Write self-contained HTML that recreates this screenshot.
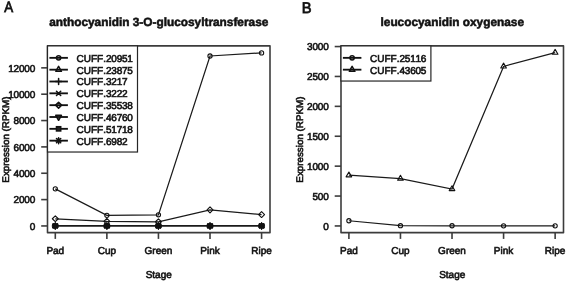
<!DOCTYPE html>
<html><head><meta charset="utf-8"><title>Expression plots</title>
<style>
html,body{margin:0;padding:0;background:#fff;}
body{width:567px;height:282px;overflow:hidden;}
svg{display:block;font-family:"Liberation Sans",sans-serif;fill:#111;text-rendering:geometricPrecision;font-kerning:none;will-change:transform;}
text{stroke:#111;stroke-width:0.65px;stroke-opacity:0.9;}
</style></head><body>
<svg width="567" height="282" viewBox="0 0 567 282">
<rect width="567" height="282" fill="#fff"/>
<rect x="47.5" y="45.9" width="222.5" height="186.75" fill="none" stroke="#3c3c3c" stroke-width="1.6" stroke-linejoin="round"/>
<line x1="41.20" x2="47.5" y1="225.95" y2="225.95" stroke="#3c3c3c" stroke-width="1.6"/>
<text x="35.20" y="229.65" text-anchor="end" font-size="10.0" letter-spacing="-0.15">0</text>
<line x1="41.20" x2="47.5" y1="199.60" y2="199.60" stroke="#3c3c3c" stroke-width="1.6"/>
<text x="35.20" y="203.30" text-anchor="end" font-size="10.0" letter-spacing="-0.15">2000</text>
<line x1="41.20" x2="47.5" y1="173.25" y2="173.25" stroke="#3c3c3c" stroke-width="1.6"/>
<text x="35.20" y="176.95" text-anchor="end" font-size="10.0" letter-spacing="-0.15">4000</text>
<line x1="41.20" x2="47.5" y1="146.90" y2="146.90" stroke="#3c3c3c" stroke-width="1.6"/>
<text x="35.20" y="150.60" text-anchor="end" font-size="10.0" letter-spacing="-0.15">6000</text>
<line x1="41.20" x2="47.5" y1="120.55" y2="120.55" stroke="#3c3c3c" stroke-width="1.6"/>
<text x="35.20" y="124.25" text-anchor="end" font-size="10.0" letter-spacing="-0.15">8000</text>
<line x1="41.20" x2="47.5" y1="94.20" y2="94.20" stroke="#3c3c3c" stroke-width="1.6"/>
<text x="35.20" y="97.90" text-anchor="end" font-size="10.0" letter-spacing="-0.15">10000</text>
<line x1="41.20" x2="47.5" y1="67.85" y2="67.85" stroke="#3c3c3c" stroke-width="1.6"/>
<text x="35.20" y="71.55" text-anchor="end" font-size="10.0" letter-spacing="-0.15">12000</text>
<line x1="55.30" x2="55.30" y1="232.65" y2="238.9" stroke="#3c3c3c" stroke-width="1.6"/>
<text x="55.30" y="254.1" text-anchor="middle" font-size="10.0">Pad</text>
<line x1="106.87" x2="106.87" y1="232.65" y2="238.9" stroke="#3c3c3c" stroke-width="1.6"/>
<text x="106.87" y="254.1" text-anchor="middle" font-size="10.0">Cup</text>
<line x1="158.44" x2="158.44" y1="232.65" y2="238.9" stroke="#3c3c3c" stroke-width="1.6"/>
<text x="158.44" y="254.1" text-anchor="middle" font-size="10.0">Green</text>
<line x1="210.01" x2="210.01" y1="232.65" y2="238.9" stroke="#3c3c3c" stroke-width="1.6"/>
<text x="210.01" y="254.1" text-anchor="middle" font-size="10.0">Pink</text>
<line x1="261.58" x2="261.58" y1="232.65" y2="238.9" stroke="#3c3c3c" stroke-width="1.6"/>
<text x="261.58" y="254.1" text-anchor="middle" font-size="10.0">Ripe</text>
<text x="158.75" y="277.7" text-anchor="middle" font-size="10.0">Stage</text>
<text x="158.75" y="25.9" text-anchor="middle" font-size="11.85" font-weight="bold" style="stroke-width:0.6px">anthocyanidin 3-O-glucosyltransferase</text>
<text transform="translate(9.10,139.62) rotate(-90) scale(0.98,0.96)" text-anchor="middle" font-size="10.0">Expression (RPKM)</text>
<text x="4.15" y="12.2" font-size="15.1" textLength="8.9" lengthAdjust="spacingAndGlyphs" style="stroke-width:0.85px">A</text>
<polyline points="55.30,188.86 106.87,215.34 158.44,214.82 210.01,55.99 261.58,52.90" fill="none" stroke="#1a1a1a" stroke-width="1.25"/>
<polyline points="55.30,225.91 106.87,225.91 158.44,225.91 210.01,225.91 261.58,225.91" fill="none" stroke="#1a1a1a" stroke-width="1.9"/>
<polyline points="55.30,218.76 106.87,221.44 158.44,221.75 210.01,209.85 261.58,214.55" fill="none" stroke="#1a1a1a" stroke-width="1.25"/>
<circle cx="55.30" cy="188.86" r="2.10" fill="none" stroke="#111" stroke-width="1.1"/>
<circle cx="106.87" cy="215.34" r="2.10" fill="none" stroke="#111" stroke-width="1.1"/>
<circle cx="158.44" cy="214.82" r="2.10" fill="none" stroke="#111" stroke-width="1.1"/>
<circle cx="210.01" cy="55.99" r="2.10" fill="none" stroke="#111" stroke-width="1.1"/>
<circle cx="261.58" cy="52.90" r="2.10" fill="none" stroke="#111" stroke-width="1.1"/>
<polygon points="55.30,222.65 58.12,227.54 52.48,227.54" fill="none" stroke="#111" stroke-width="1.1" stroke-linejoin="round"/>
<polygon points="106.87,222.65 109.69,227.54 104.05,227.54" fill="none" stroke="#111" stroke-width="1.1" stroke-linejoin="round"/>
<polygon points="158.44,222.65 161.26,227.54 155.62,227.54" fill="none" stroke="#111" stroke-width="1.1" stroke-linejoin="round"/>
<polygon points="210.01,222.65 212.83,227.54 207.19,227.54" fill="none" stroke="#111" stroke-width="1.1" stroke-linejoin="round"/>
<polygon points="261.58,222.65 264.40,227.54 258.76,227.54" fill="none" stroke="#111" stroke-width="1.1" stroke-linejoin="round"/>
<path d="M52.33 225.91H58.27M55.30 222.94V228.88" stroke="#111" stroke-width="1.1" stroke-linecap="round" fill="none"/>
<path d="M103.90 225.91H109.84M106.87 222.94V228.88" stroke="#111" stroke-width="1.1" stroke-linecap="round" fill="none"/>
<path d="M155.47 225.91H161.41M158.44 222.94V228.88" stroke="#111" stroke-width="1.1" stroke-linecap="round" fill="none"/>
<path d="M207.04 225.91H212.98M210.01 222.94V228.88" stroke="#111" stroke-width="1.1" stroke-linecap="round" fill="none"/>
<path d="M258.61 225.91H264.55M261.58 222.94V228.88" stroke="#111" stroke-width="1.1" stroke-linecap="round" fill="none"/>
<path d="M53.20 223.81L57.40 228.01M53.20 228.01L57.40 223.81" stroke="#111" stroke-width="1.1" stroke-linecap="round" fill="none"/>
<path d="M104.77 223.81L108.97 228.01M104.77 228.01L108.97 223.81" stroke="#111" stroke-width="1.1" stroke-linecap="round" fill="none"/>
<path d="M156.34 223.81L160.54 228.01M156.34 228.01L160.54 223.81" stroke="#111" stroke-width="1.1" stroke-linecap="round" fill="none"/>
<path d="M207.91 223.81L212.11 228.01M207.91 228.01L212.11 223.81" stroke="#111" stroke-width="1.1" stroke-linecap="round" fill="none"/>
<path d="M259.48 223.81L263.68 228.01M259.48 228.01L263.68 223.81" stroke="#111" stroke-width="1.1" stroke-linecap="round" fill="none"/>
<polygon points="55.30,215.79 58.27,218.76 55.30,221.73 52.33,218.76" fill="none" stroke="#111" stroke-width="1.1" stroke-linejoin="round"/>
<polygon points="106.87,218.47 109.84,221.44 106.87,224.41 103.90,221.44" fill="none" stroke="#111" stroke-width="1.1" stroke-linejoin="round"/>
<polygon points="158.44,218.78 161.41,221.75 158.44,224.72 155.47,221.75" fill="none" stroke="#111" stroke-width="1.1" stroke-linejoin="round"/>
<polygon points="210.01,206.88 212.98,209.85 210.01,212.82 207.04,209.85" fill="none" stroke="#111" stroke-width="1.1" stroke-linejoin="round"/>
<polygon points="261.58,211.58 264.55,214.55 261.58,217.52 258.61,214.55" fill="none" stroke="#111" stroke-width="1.1" stroke-linejoin="round"/>
<polygon points="55.30,229.17 58.12,224.28 52.48,224.28" fill="none" stroke="#111" stroke-width="1.1" stroke-linejoin="round"/>
<polygon points="106.87,229.17 109.69,224.28 104.05,224.28" fill="none" stroke="#111" stroke-width="1.1" stroke-linejoin="round"/>
<polygon points="158.44,229.17 161.26,224.28 155.62,224.28" fill="none" stroke="#111" stroke-width="1.1" stroke-linejoin="round"/>
<polygon points="210.01,229.17 212.83,224.28 207.19,224.28" fill="none" stroke="#111" stroke-width="1.1" stroke-linejoin="round"/>
<polygon points="261.58,229.17 264.40,224.28 258.76,224.28" fill="none" stroke="#111" stroke-width="1.1" stroke-linejoin="round"/>
<rect x="53.20" y="223.81" width="4.20" height="4.20" fill="#222" stroke="#111" stroke-width="1.1"/>
<rect x="104.77" y="223.81" width="4.20" height="4.20" fill="#222" stroke="#111" stroke-width="1.1"/>
<rect x="156.34" y="223.81" width="4.20" height="4.20" fill="#222" stroke="#111" stroke-width="1.1"/>
<rect x="207.91" y="223.81" width="4.20" height="4.20" fill="#222" stroke="#111" stroke-width="1.1"/>
<rect x="259.48" y="223.81" width="4.20" height="4.20" fill="#222" stroke="#111" stroke-width="1.1"/>
<path d="M52.33 225.91H58.27M55.30 222.94V228.88M53.20 223.81L57.40 228.01M53.20 228.01L57.40 223.81" stroke="#111" stroke-width="1.1" stroke-linecap="round" fill="none"/>
<path d="M103.90 225.91H109.84M106.87 222.94V228.88M104.77 223.81L108.97 228.01M104.77 228.01L108.97 223.81" stroke="#111" stroke-width="1.1" stroke-linecap="round" fill="none"/>
<path d="M155.47 225.91H161.41M158.44 222.94V228.88M156.34 223.81L160.54 228.01M156.34 228.01L160.54 223.81" stroke="#111" stroke-width="1.1" stroke-linecap="round" fill="none"/>
<path d="M207.04 225.91H212.98M210.01 222.94V228.88M207.91 223.81L212.11 228.01M207.91 228.01L212.11 223.81" stroke="#111" stroke-width="1.1" stroke-linecap="round" fill="none"/>
<path d="M258.61 225.91H264.55M261.58 222.94V228.88M259.48 223.81L263.68 228.01M259.48 228.01L263.68 223.81" stroke="#111" stroke-width="1.1" stroke-linecap="round" fill="none"/>
<rect x="47.5" y="45.9" width="90.00" height="106.12" fill="#fff" stroke="#262626" stroke-width="1.2"/>
<line x1="49.40" x2="67.90" y1="57.85" y2="57.85" stroke="#111" stroke-width="1.85"/>
<circle cx="58.60" cy="57.85" r="2.10" fill="none" stroke="#111" stroke-width="1.55"/>
<text x="76.50" y="61.75" font-size="10.0">CUFF.<tspan letter-spacing="-0.22">20951</tspan></text>
<line x1="49.40" x2="67.90" y1="69.68" y2="69.68" stroke="#111" stroke-width="1.85"/>
<polygon points="58.60,66.42 61.42,71.31 55.78,71.31" fill="none" stroke="#111" stroke-width="1.55" stroke-linejoin="round"/>
<text x="76.50" y="73.58" font-size="10.0">CUFF.<tspan letter-spacing="-0.22">23875</tspan></text>
<line x1="49.40" x2="67.90" y1="81.51" y2="81.51" stroke="#111" stroke-width="1.85"/>
<path d="M55.63 81.51H61.57M58.60 78.54V84.48" stroke="#111" stroke-width="1.55" stroke-linecap="round" fill="none"/>
<text x="76.50" y="85.41" font-size="10.0">CUFF.<tspan letter-spacing="-0.22">3217</tspan></text>
<line x1="49.40" x2="67.90" y1="93.34" y2="93.34" stroke="#111" stroke-width="1.85"/>
<path d="M56.50 91.24L60.70 95.44M56.50 95.44L60.70 91.24" stroke="#111" stroke-width="1.55" stroke-linecap="round" fill="none"/>
<text x="76.50" y="97.24" font-size="10.0">CUFF.<tspan letter-spacing="-0.22">3222</tspan></text>
<line x1="49.40" x2="67.90" y1="105.17" y2="105.17" stroke="#111" stroke-width="1.85"/>
<polygon points="58.60,102.20 61.57,105.17 58.60,108.14 55.63,105.17" fill="none" stroke="#111" stroke-width="1.55" stroke-linejoin="round"/>
<text x="76.50" y="109.07" font-size="10.0">CUFF.<tspan letter-spacing="-0.22">35538</tspan></text>
<line x1="49.40" x2="67.90" y1="117.00" y2="117.00" stroke="#111" stroke-width="1.85"/>
<polygon points="58.60,120.26 61.42,115.37 55.78,115.37" fill="none" stroke="#111" stroke-width="1.55" stroke-linejoin="round"/>
<text x="76.50" y="120.90" font-size="10.0">CUFF.<tspan letter-spacing="-0.22">46760</tspan></text>
<line x1="49.40" x2="67.90" y1="128.83" y2="128.83" stroke="#111" stroke-width="1.85"/>
<rect x="56.50" y="126.73" width="4.20" height="4.20" fill="#222" stroke="#111" stroke-width="1.55"/>
<text x="76.50" y="132.73" font-size="10.0">CUFF.<tspan letter-spacing="-0.22">51718</tspan></text>
<line x1="49.40" x2="67.90" y1="140.66" y2="140.66" stroke="#111" stroke-width="1.85"/>
<path d="M55.63 140.66H61.57M58.60 137.69V143.63M56.50 138.56L60.70 142.76M56.50 142.76L60.70 138.56" stroke="#111" stroke-width="1.55" stroke-linecap="round" fill="none"/>
<text x="76.50" y="144.56" font-size="10.0">CUFF.<tspan letter-spacing="-0.22">6982</tspan></text>
<rect x="341.0" y="45.9" width="222.5" height="186.75" fill="none" stroke="#3c3c3c" stroke-width="1.6" stroke-linejoin="round"/>
<line x1="334.70" x2="341.0" y1="225.95" y2="225.95" stroke="#3c3c3c" stroke-width="1.6"/>
<text x="328.70" y="229.65" text-anchor="end" font-size="10.0" letter-spacing="-0.15">0</text>
<line x1="334.70" x2="341.0" y1="196.05" y2="196.05" stroke="#3c3c3c" stroke-width="1.6"/>
<text x="328.70" y="199.75" text-anchor="end" font-size="10.0" letter-spacing="-0.15">500</text>
<line x1="334.70" x2="341.0" y1="166.15" y2="166.15" stroke="#3c3c3c" stroke-width="1.6"/>
<text x="328.70" y="169.85" text-anchor="end" font-size="10.0" letter-spacing="-0.15">1000</text>
<line x1="334.70" x2="341.0" y1="136.25" y2="136.25" stroke="#3c3c3c" stroke-width="1.6"/>
<text x="328.70" y="139.95" text-anchor="end" font-size="10.0" letter-spacing="-0.15">1500</text>
<line x1="334.70" x2="341.0" y1="106.35" y2="106.35" stroke="#3c3c3c" stroke-width="1.6"/>
<text x="328.70" y="110.05" text-anchor="end" font-size="10.0" letter-spacing="-0.15">2000</text>
<line x1="334.70" x2="341.0" y1="76.45" y2="76.45" stroke="#3c3c3c" stroke-width="1.6"/>
<text x="328.70" y="80.15" text-anchor="end" font-size="10.0" letter-spacing="-0.15">2500</text>
<line x1="334.70" x2="341.0" y1="46.55" y2="46.55" stroke="#3c3c3c" stroke-width="1.6"/>
<text x="328.70" y="50.25" text-anchor="end" font-size="10.0" letter-spacing="-0.15">3000</text>
<line x1="348.90" x2="348.90" y1="232.65" y2="238.9" stroke="#3c3c3c" stroke-width="1.6"/>
<text x="348.90" y="254.1" text-anchor="middle" font-size="10.0">Pad</text>
<line x1="400.46" x2="400.46" y1="232.65" y2="238.9" stroke="#3c3c3c" stroke-width="1.6"/>
<text x="400.46" y="254.1" text-anchor="middle" font-size="10.0">Cup</text>
<line x1="452.02" x2="452.02" y1="232.65" y2="238.9" stroke="#3c3c3c" stroke-width="1.6"/>
<text x="452.02" y="254.1" text-anchor="middle" font-size="10.0">Green</text>
<line x1="503.58" x2="503.58" y1="232.65" y2="238.9" stroke="#3c3c3c" stroke-width="1.6"/>
<text x="503.58" y="254.1" text-anchor="middle" font-size="10.0">Pink</text>
<line x1="555.14" x2="555.14" y1="232.65" y2="238.9" stroke="#3c3c3c" stroke-width="1.6"/>
<text x="555.14" y="254.1" text-anchor="middle" font-size="10.0">Ripe</text>
<text x="452.25" y="277.7" text-anchor="middle" font-size="10.0">Stage</text>
<text x="452.25" y="25.9" text-anchor="middle" font-size="11.85" font-weight="bold" style="stroke-width:0.6px">leucocyanidin oxygenase</text>
<text transform="translate(302.60,139.62) rotate(-90) scale(0.98,0.96)" text-anchor="middle" font-size="10.0">Expression (RPKM)</text>
<text x="301.7" y="13.1" font-size="15.3" textLength="9.8" lengthAdjust="spacingAndGlyphs" style="stroke-width:0.85px">B</text>
<polyline points="348.90,220.75 400.46,225.71 452.02,225.77 503.58,225.83 555.14,225.83" fill="none" stroke="#1a1a1a" stroke-width="1.25"/>
<polyline points="348.90,175.24 400.46,178.53 452.02,188.99 503.58,66.40 555.14,52.65" fill="none" stroke="#1a1a1a" stroke-width="1.25"/>
<circle cx="348.90" cy="220.75" r="2.10" fill="none" stroke="#111" stroke-width="1.1"/>
<circle cx="400.46" cy="225.71" r="2.10" fill="none" stroke="#111" stroke-width="1.1"/>
<circle cx="452.02" cy="225.77" r="2.10" fill="none" stroke="#111" stroke-width="1.1"/>
<circle cx="503.58" cy="225.83" r="2.10" fill="none" stroke="#111" stroke-width="1.1"/>
<circle cx="555.14" cy="225.83" r="2.10" fill="none" stroke="#111" stroke-width="1.1"/>
<polygon points="348.90,171.98 351.72,176.87 346.08,176.87" fill="none" stroke="#111" stroke-width="1.1" stroke-linejoin="round"/>
<polygon points="400.46,175.27 403.28,180.16 397.64,180.16" fill="none" stroke="#111" stroke-width="1.1" stroke-linejoin="round"/>
<polygon points="452.02,185.74 454.84,190.62 449.20,190.62" fill="none" stroke="#111" stroke-width="1.1" stroke-linejoin="round"/>
<polygon points="503.58,63.15 506.40,68.03 500.76,68.03" fill="none" stroke="#111" stroke-width="1.1" stroke-linejoin="round"/>
<polygon points="555.14,49.39 557.96,54.28 552.32,54.28" fill="none" stroke="#111" stroke-width="1.1" stroke-linejoin="round"/>
<rect x="341.0" y="45.9" width="89.90" height="35.14" fill="#fff" stroke="#262626" stroke-width="1.2"/>
<line x1="342.90" x2="361.40" y1="57.85" y2="57.85" stroke="#111" stroke-width="1.85"/>
<circle cx="352.10" cy="57.85" r="2.10" fill="none" stroke="#111" stroke-width="1.55"/>
<text x="370.00" y="61.75" font-size="10.0">CUFF.<tspan letter-spacing="-0.22">25116</tspan></text>
<line x1="342.90" x2="361.40" y1="69.68" y2="69.68" stroke="#111" stroke-width="1.85"/>
<polygon points="352.10,66.42 354.92,71.31 349.28,71.31" fill="none" stroke="#111" stroke-width="1.55" stroke-linejoin="round"/>
<text x="370.00" y="73.58" font-size="10.0">CUFF.<tspan letter-spacing="-0.22">43605</tspan></text>
</svg>
</body></html>
